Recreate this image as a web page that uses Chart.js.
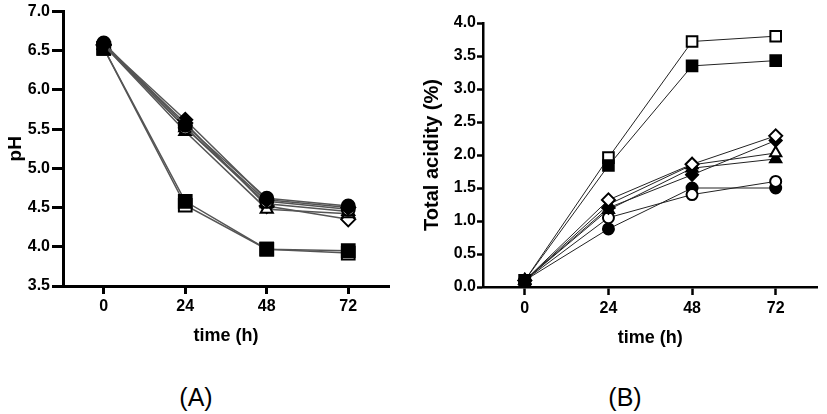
<!DOCTYPE html>
<html>
<head>
<meta charset="utf-8">
<script src="https://cdn.jsdelivr.net/npm/chart.js@4"></script>
<style>
  html, body { margin: 0; padding: 0; background: #fff; }
  body { width: 827px; height: 414px; position: relative; overflow: hidden; font-family: 'Liberation Sans', Arial, sans-serif; }
  .box { position: absolute; top: 0; }
  .panel { position: absolute; font-size: 25px; line-height: 25px; color: #000; transform: translateX(-50%); }
</style>
</head>
<body>
<div class="box" style="left:0px;"><canvas id="chartA" width="400" height="360"></canvas></div>
<div class="box" style="left:410px;"><canvas id="chartB" width="417" height="360"></canvas></div>
<div class="panel" style="left:196px; top:385px;">(A)</div>
<div class="panel" style="left:625px; top:385px;">(B)</div>
<script>
// ---- data ----
const timeH = [0, 24, 48, 72];
const xTickValues = [0, 24, 48, 72];

// pH (panel A)
const phFilledSquare   = [6.53, 4.58, 3.97, 3.95];
const phOpenSquare     = [6.53, 4.53, 3.97, 3.92];
const phFilledCircle   = [6.60, 5.55, 4.62, 4.52];
const phOpenCircle     = [6.58, 5.52, 4.58, 4.48];
const phFilledTriangle = [6.57, 5.52, 4.55, 4.45];
const phOpenTriangle   = [6.57, 5.47, 4.48, 4.42];
const phFilledDiamond  = [6.58, 5.62, 4.60, 4.50];
const phOpenDiamond    = [6.57, 5.58, 4.52, 4.35];

// Total acidity % (panel B)
const taFilledSquare   = [0.10, 1.84, 3.35, 3.43];
const taOpenSquare     = [0.10, 1.96, 3.72, 3.80];
const taFilledCircle   = [0.10, 0.88, 1.50, 1.50];
const taOpenCircle     = [0.10, 1.05, 1.40, 1.60];
const taFilledTriangle = [0.10, 1.17, 1.80, 1.94];
const taOpenTriangle   = [0.10, 1.25, 1.85, 2.03];
const taFilledDiamond  = [0.10, 1.20, 1.70, 2.22];
const taOpenDiamond    = [0.10, 1.32, 1.86, 2.29];

const FONT = "'Liberation Sans', Arial, sans-serif";

function series(values, shape, filled, size, lineColor, lineWidth) {
  return {
    data: timeH.map((t, i) => ({ x: t, y: values[i] })),
    borderColor: lineColor,
    borderWidth: lineWidth,
    pointStyle: shape,
    pointRadius: size,
    pointBackgroundColor: filled ? '#000' : '#fff',
    pointBorderColor: '#000',
    pointBorderWidth: 2,
    fill: false,
    tension: 0
  };
}

function makeOptions(cfg) {
  return {
    responsive: false,
    animation: false,
    devicePixelRatio: 1,
    layout: { padding: cfg.padding },
    plugins: { legend: { display: false }, tooltip: { enabled: false } },
    scales: {
      x: {
        type: 'linear',
        min: -12, max: 84,
        afterBuildTicks: s => { s.ticks = xTickValues.map(v => ({ value: v })); },
        afterFit: s => { s.height = cfg.xHeight; },
        border: { color: '#000', width: cfg.axisWidth },
        grid: { drawOnChartArea: false, drawTicks: true, tickLength: cfg.xTickLen, tickWidth: cfg.axisWidth, tickColor: '#000' },
        ticks: { color: '#000', padding: cfg.xTickPad, font: { family: FONT, size: 16, weight: 'bold' } },
        title: { display: true, text: 'time (h)', color: '#000', padding: { top: 0, bottom: cfg.xTitlePad }, font: { family: FONT, size: 18, weight: 'bold' } }
      },
      y: {
        type: 'linear',
        min: cfg.yMin, max: cfg.yMax,
        ticks: { stepSize: 0.5, color: '#000', padding: cfg.yTickPad, callback: v => Number(v).toFixed(1), font: { family: FONT, size: 16, weight: 'bold' } },
        afterFit: s => { s.width = cfg.yWidth; },
        border: { color: '#000', width: cfg.axisWidth },
        grid: { drawOnChartArea: false, drawTicks: true, tickLength: cfg.yTickLen, tickWidth: cfg.axisWidth, tickColor: '#000' },
        title: { display: true, text: cfg.yTitle, color: '#000', padding: { top: cfg.yTitlePad, bottom: 0 }, font: { family: FONT, size: cfg.yTitleSize, weight: 'bold' } }
      }
    }
  };
}

const lineA = '#555', lwA = 1.5;
new Chart(document.getElementById('chartA'), {
  type: 'line',
  data: {
    datasets: [
      series(phFilledCircle,   'circle',   true,  6.5, lineA, lwA),
      series(phFilledDiamond,  'rectRot',  true,  7,   lineA, lwA),
      series(phOpenCircle,     'circle',   false, 6.5, lineA, lwA),
      series(phFilledTriangle, 'triangle', true,  7,   lineA, lwA),
      series(phOpenTriangle,   'triangle', false, 7,   lineA, lwA),
      series(phOpenDiamond,    'rectRot',  false, 7,   lineA, lwA),
      series(phFilledSquare,   'rect',     true,  9,   lineA, lwA),
      series(phOpenSquare,     'rect',     false, 9,   lineA, lwA)
    ]
  },
  options: makeOptions({
    padding: { top: 10, right: 7, bottom: 0, left: 0 },
    xHeight: 74, yWidth: 63, axisWidth: 3,
    xTickLen: 8, xTickPad: 3, xTitlePad: 13,
    yTickLen: 11, yTickPad: 2, yTitlePad: 4, yTitleSize: 19,
    yMin: 3.5, yMax: 7.0, yTitle: 'pH'
  })
});

const lineB = '#222', lwB = 1;
new Chart(document.getElementById('chartB'), {
  type: 'line',
  data: {
    datasets: [
      series(taFilledSquare,   'rect',     true,  7.5, lineB, lwB),
      series(taOpenSquare,     'rect',     false, 7.5, lineB, lwB),
      series(taOpenDiamond,    'rectRot',  false, 6.5, lineB, lwB),
      series(taFilledDiamond,  'rectRot',  true,  6,   lineB, lwB),
      series(taOpenTriangle,   'triangle', false, 6.5, lineB, lwB),
      series(taFilledTriangle, 'triangle', true,  6.5, lineB, lwB),
      series(taOpenCircle,     'circle',   false, 5.5, lineB, lwB),
      series(taFilledCircle,   'circle',   true,  5.5, lineB, lwB)
    ]
  },
  options: makeOptions({
    padding: { top: 23, right: 5, bottom: 0, left: 0 },
    xHeight: 73, yWidth: 73, axisWidth: 2.5,
    xTickLen: 8, xTickPad: 4, xTitlePad: 11,
    yTickLen: 6, yTickPad: 1, yTitlePad: 10, yTitleSize: 20,
    yMin: 0, yMax: 4.0, yTitle: 'Total acidity (%)'
  })
});
</script>
</body>
</html>
